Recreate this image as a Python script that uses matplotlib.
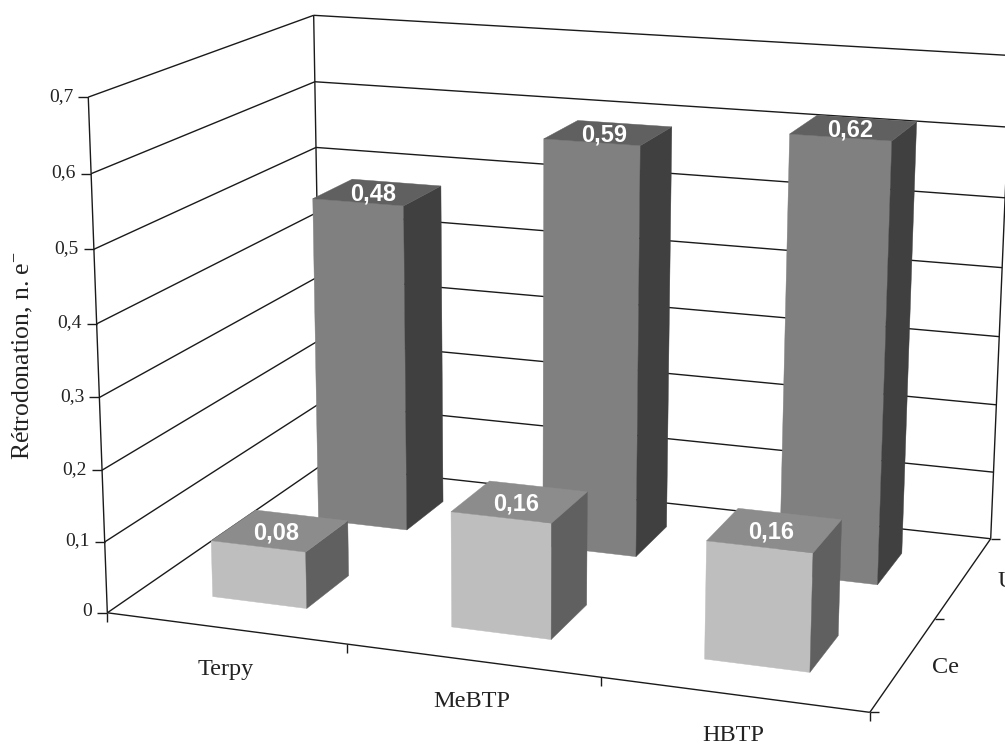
import numpy as np
import matplotlib
matplotlib.use("Agg")
import matplotlib.pyplot as plt
from matplotlib.patches import Polygon

categories = ["Terpy", "MeBTP", "HBTP"]
series_names = ["Ce", "U"]
ce_values = [0.08, 0.16, 0.16]
u_values = [0.48, 0.59, 0.62]
value_labels_ce = ["0,08", "0,16", "0,16"]
value_labels_u = ["0,48", "0,59", "0,62"]
z_ticks = [0, 0.1, 0.2, 0.3, 0.4, 0.5, 0.6, 0.7]
z_tick_labels = ["0", "0,1", "0,2", "0,3", "0,4", "0,5", "0,6", "0,7"]
y_title = "Rétrodonation, n. e$^{-}$"

plt.rcParams['font.family'] = ['Liberation Serif', 'DejaVu Serif']
plt.rcParams['mathtext.default'] = 'regular'

# Camera calibration: chart box corners (category, series, value) -> image position
frame_3d = [(0, 0, 0), (3, 0, 0), (0, 0, .7), (0, 2, .7), (0, 2, 0), (3, 2, 0), (3, 2, .7), (1, 0, 0), (2, 0, 0), (3, 1, 0)]
frame_px = [(108, 612), (870, 712), (88, 97), (314, 15), (321, 466), (991, 538), (1011, 56), (347, 643), (600, 680), (935, 618)]


def fit_camera(world, image):
    rows = []
    for (x, y, z), (u, v) in zip(world, image):
        rows.append([x, y, z, 1, 0, 0, 0, 0, -u * x, -u * y, -u * z, -u])
        rows.append([0, 0, 0, 0, x, y, z, 1, -v * x, -v * y, -v * z, -v])
    return np.linalg.svd(np.array(rows, float))[2][-1].reshape(3, 4)


CAM = fit_camera(frame_3d, frame_px)


def proj(x, y, z):
    p = CAM @ np.array([x, y, z, 1.0])
    return p[0] / p[2], p[1] / p[2]


fig = plt.figure(figsize=(10.05, 7.45), dpi=100)
ax = fig.add_axes([0, 0, 1, 1])
ax.set_xlim(0, 1005)
ax.set_ylim(745, 0)
ax.axis("off")

LINE = dict(color="#1a1a1a", lw=1.0, solid_capstyle="butt", zorder=1)


def seg(a, b):
    pa, pb = proj(*a), proj(*b)
    ax.plot([pa[0], pb[0]], [pa[1], pb[1]], **LINE)


def tick(a, dx, dy):
    p = proj(*a)
    ax.plot([p[0], p[0] + dx], [p[1], p[1] + dy], **LINE)


n_cat, n_ser = len(categories), len(series_names)
zmax = z_ticks[-1]
for z, lab in zip(z_ticks, z_tick_labels):
    seg((0, 0, z), (0, n_ser, z))
    seg((0, n_ser, z), (n_cat, n_ser, z))
    tick((0, 0, z), -10, 0)
    p = proj(0, 0, z)
    ax.text(p[0] - 15, p[1] - 1, lab, ha="right", va="center", fontsize=14, color="#222222")

seg((0, 0, 0), (0, 0, zmax))
seg((0, n_ser, 0), (0, n_ser, zmax))
seg((n_cat, n_ser, 0), (n_cat, n_ser, zmax))
seg((0, 0, 0), (n_cat, 0, 0))
seg((n_cat, 0, 0), (n_cat, n_ser, 0))

for i in range(n_cat + 1):
    tick((i, 0, 0), 0, 9)
for j in range(n_ser + 1):
    tick((n_cat, j, 0), 9, 0)

for i, name in enumerate(categories):
    p = proj(i + 0.5, 0, 0)
    ax.text(p[0], p[1] + 41, name, ha="center", va="center", fontsize=17.5, color="#222222")
for j, name in enumerate(series_names):
    p = proj(n_cat, j + 0.5, 0)
    ax.text(p[0] + 42, p[1] + 4, name, ha="center", va="center", fontsize=17.5, color="#222222")

ax.text(23, 356, y_title, rotation=90, ha="center", va="center", fontsize=18.5, color="#222222")

BAR_LO, BAR_HI = 0.3, 0.7
colors = [("#BEBEBE", "#8C8C8C", "#606060"), ("#808080", "#606060", "#404040")]
series_vals = [ce_values, u_values]
series_labs = [value_labels_ce, value_labels_u]

# rear series first so the front series covers it
for j in (1, 0):
    front, top, side = colors[j]
    for i, v in enumerate(series_vals[j]):
        x0, x1 = i + BAR_LO, i + BAR_HI
        y0, y1 = j + BAR_LO, j + BAR_HI
        z_order = 5 - j
        ax.add_patch(Polygon([proj(x0, y0, 0), proj(x1, y0, 0), proj(x1, y0, v), proj(x0, y0, v)],
                             closed=True, fc=front, ec=front, lw=0.3, zorder=z_order))
        ax.add_patch(Polygon([proj(x1, y0, 0), proj(x1, y1, 0), proj(x1, y1, v), proj(x1, y0, v)],
                             closed=True, fc=side, ec=side, lw=0.3, zorder=z_order))
        ax.add_patch(Polygon([proj(x0, y0, v), proj(x1, y0, v), proj(x1, y1, v), proj(x0, y1, v)],
                             closed=True, fc=top, ec=top, lw=0.3, zorder=z_order))
        c = proj((x0 + x1) / 2, (y0 + y1) / 2, v)
        ax.text(c[0] - 4, c[1] + 2, series_labs[j][i], ha="center", va="center", fontsize=17,
                color="white", family="Liberation Sans", weight="bold", zorder=10)

fig.savefig("out.png", dpi=100, facecolor="white")
